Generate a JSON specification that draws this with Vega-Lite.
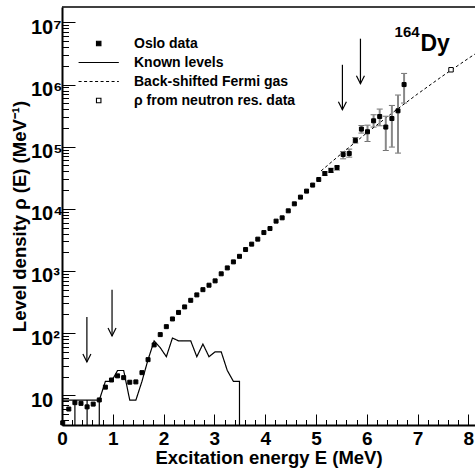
{
  "$schema": "https://vega.github.io/schema/vega-lite/v6.json",
  "width": 413,
  "height": 418,
  "autosize": {"type": "none"},
  "padding": {"left": 62, "top": 7, "right": 0, "bottom": 43},
  "background": "white",
  "config": {
    "view": {"stroke": null},
    "font": "Liberation Sans",
    "axis": {
      "grid": false,
      "domainColor": "black",
      "domainWidth": 2,
      "tickColor": "black",
      "tickWidth": 1,
      "labelColor": "black",
      "labelFont": "Liberation Sans",
      "labelFontWeight": "bold",
      "labelFontSize": 19,
      "titleFont": "Liberation Sans",
      "titleFontWeight": "bold",
      "titleFontSize": 18.5,
      "titleColor": "black",
      "labelOverlap": false,
      "labelFlush": false,
      "labelBound": false
    },
    "legend": {
      "orient": "none",
      "legendX": 29.7,
      "legendY": 29.5,
      "padding": 0,
      "labelFont": "Liberation Sans",
      "labelFontWeight": "bold",
      "labelFontSize": 14,
      "labelColor": "black",
      "labelLimit": 400,
      "labelOffset": 28.3,
      "rowPadding": 5,
      "symbolSize": 20,
      "symbolStrokeWidth": 1.1,
      "symbolOpacity": 1
    }
  },
  "resolve": {"axis": {"x": "independent", "y": "independent"}},
  "datasets": {
    "oslo": [
      {"E": 0.014, "rho": 3.6}, {"E": 0.134, "rho": 6.0}, {"E": 0.254, "rho": 7.6}, {"E": 0.374, "rho": 7.4},
      {"E": 0.494, "rho": 6.5}, {"E": 0.614, "rho": 7.2}, {"E": 0.734, "rho": 8.4}, {"E": 0.854, "rho": 13.5},
      {"E": 0.974, "rho": 17.6}, {"E": 1.094, "rho": 20.5}, {"E": 1.214, "rho": 19.2}, {"E": 1.334, "rho": 16.2},
      {"E": 1.454, "rho": 16.4}, {"E": 1.574, "rho": 23.1}, {"E": 1.694, "rho": 37.4}, {"E": 1.814, "rho": 64.6},
      {"E": 1.934, "rho": 94.6}, {"E": 2.054, "rho": 127}, {"E": 2.174, "rho": 169}, {"E": 2.294, "rho": 215},
      {"E": 2.414, "rho": 264}, {"E": 2.534, "rho": 337}, {"E": 2.654, "rho": 412}, {"E": 2.774, "rho": 500},
      {"E": 2.894, "rho": 590}, {"E": 3.014, "rho": 693}, {"E": 3.134, "rho": 900}, {"E": 3.254, "rho": 1120},
      {"E": 3.374, "rho": 1400}, {"E": 3.494, "rho": 1720}, {"E": 3.614, "rho": 2213}, {"E": 3.734, "rho": 2702},
      {"E": 3.854, "rho": 3251}, {"E": 3.974, "rho": 4151}, {"E": 4.094, "rho": 4819}, {"E": 4.214, "rho": 6339},
      {"E": 4.334, "rho": 7166}, {"E": 4.454, "rho": 9290}, {"E": 4.574, "rho": 12040}, {"E": 4.694, "rho": 15420},
      {"E": 4.814, "rho": 19270}, {"E": 4.934, "rho": 24100}, {"E": 5.054, "rho": 29650}, {"E": 5.174, "rho": 37000},
      {"E": 5.294, "rho": 41400}, {"E": 5.414, "rho": 46200}, {"E": 5.534, "rho": 74900}, {"E": 5.654, "rho": 77700},
      {"E": 5.774, "rho": 126000}, {"E": 5.894, "rho": 192000}, {"E": 6.014, "rho": 174000}, {"E": 6.134, "rho": 261000},
      {"E": 6.254, "rho": 306000}, {"E": 6.374, "rho": 207000}, {"E": 6.494, "rho": 284000}, {"E": 6.614, "rho": 378000},
      {"E": 6.734, "rho": 1000000}
    ],
    "errors": [
      {"E": 5.174, "lo": 34500, "hi": 39500}, {"E": 5.294, "lo": 38500, "hi": 45000},
      {"E": 5.414, "lo": 42000, "hi": 49000}, {"E": 5.534, "lo": 63800, "hi": 83700},
      {"E": 5.654, "lo": 67900, "hi": 91400}, {"E": 5.774, "lo": 114300, "hi": 140600},
      {"E": 5.894, "lo": 165600, "hi": 219500}, {"E": 6.014, "lo": 121300, "hi": 222000},
      {"E": 6.134, "lo": 207000, "hi": 326500}, {"E": 6.254, "lo": 217000, "hi": 403000},
      {"E": 6.374, "lo": 86900, "hi": 309000}, {"E": 6.494, "lo": 98600, "hi": 461000},
      {"E": 6.614, "lo": 78900, "hi": 678000}, {"E": 6.734, "lo": 504000, "hi": 1510000}
    ],
    "known": [
      {"seq": 1, "E": 0.014, "rho": 8.33}, {"seq": 2, "E": 0.134, "rho": 8.33}, {"seq": 3, "E": 0.254, "rho": 8.33},
      {"seq": 4, "E": 0.254, "rho": 1}, {"seq": 5, "E": 0.254, "rho": 8.33}, {"seq": 6, "E": 0.494, "rho": 8.33},
      {"seq": 7, "E": 0.494, "rho": 1}, {"seq": 8, "E": 0.494, "rho": 8.33}, {"seq": 9, "E": 0.734, "rho": 8.33},
      {"seq": 10, "E": 0.734, "rho": 1}, {"seq": 11, "E": 0.734, "rho": 8.33}, {"seq": 12, "E": 0.854, "rho": 16.7},
      {"seq": 13, "E": 0.974, "rho": 16.7}, {"seq": 14, "E": 1.094, "rho": 25}, {"seq": 15, "E": 1.214, "rho": 25},
      {"seq": 16, "E": 1.334, "rho": 8.33}, {"seq": 17, "E": 1.454, "rho": 8.33}, {"seq": 18, "E": 1.574, "rho": 16.7},
      {"seq": 19, "E": 1.694, "rho": 37.5}, {"seq": 20, "E": 1.814, "rho": 75}, {"seq": 21, "E": 1.934, "rho": 58.3},
      {"seq": 22, "E": 2.054, "rho": 41.7}, {"seq": 23, "E": 2.174, "rho": 83.3}, {"seq": 24, "E": 2.294, "rho": 75},
      {"seq": 25, "E": 2.414, "rho": 75}, {"seq": 26, "E": 2.534, "rho": 75}, {"seq": 27, "E": 2.654, "rho": 41.7},
      {"seq": 28, "E": 2.774, "rho": 66.7}, {"seq": 29, "E": 2.894, "rho": 41.7}, {"seq": 30, "E": 3.014, "rho": 50},
      {"seq": 31, "E": 3.134, "rho": 50}, {"seq": 32, "E": 3.254, "rho": 25}, {"seq": 33, "E": 3.374, "rho": 16.7},
      {"seq": 34, "E": 3.494, "rho": 16.7}, {"seq": 35, "E": 3.494, "rho": 1}
    ],
    "fermi": [
      {"E": 5.1, "rho": 40800}, {"E": 5.5, "rho": 77300}, {"E": 6.0, "rho": 166700}, {"E": 6.5, "rho": 348600},
      {"E": 7.0, "rho": 706000}, {"E": 7.5, "rho": 1386000}, {"E": 8.0, "rho": 2635000}, {"E": 8.13, "rho": 3100000}
    ],
    "neutron": [{"E": 7.658, "rho": 1730000}],
    "arrows": [
      {"E": 0.49, "top": 182, "tip": 34.4},
      {"E": 0.985, "top": 497, "tip": 90},
      {"E": 5.52, "top": 2080000, "tip": 393000},
      {"E": 5.875, "top": 5470000, "tip": 1030000}
    ],
    "nucleus": [{"mass": "164", "symbol": "Dy"}],
    "frame": [{"rho": 17700000}]
  },
  "layer": [
    {
      "data": {"name": "known"},
      "mark": {"type": "line", "strokeWidth": 1.2, "clip": true},
      "encoding": {
        "x": {"field": "E", "type": "quantitative", "scale": {"domain": [0, 8.13], "nice": false, "zero": false}, "axis": null},
        "y": {"field": "rho", "type": "quantitative", "scale": {"type": "log", "domain": [3.32, 17700000], "nice": false}, "axis": null},
        "order": {"field": "seq"},
        "stroke": {
          "datum": "Known levels",
          "scale": {
            "domain": ["Oslo data", "Known levels", "Back-shifted Fermi gas", "ρ from neutron res. data"],
            "range": ["black", "black", "black", "black"]
          },
          "legend": {"title": null}
        },
        "strokeDash": {
          "datum": "Known levels",
          "scale": {
            "domain": ["Oslo data", "Known levels", "Back-shifted Fermi gas", "ρ from neutron res. data"],
            "range": [[1, 0], [1, 0], [3, 2.5], [1, 0]]
          },
          "legend": {"title": null}
        }
      }
    },
    {
      "data": {"name": "fermi"},
      "mark": {"type": "line", "strokeWidth": 1, "clip": true},
      "encoding": {
        "x": {
          "field": "E", "type": "quantitative",
          "axis": {
            "orient": "bottom", "title": null, "labels": false, "domain": false, "tickSize": -5.5,
            "values": [0.2, 0.4, 0.6, 0.8, 1.2, 1.4, 1.6, 1.8, 2.2, 2.4, 2.6, 2.8, 3.2, 3.4, 3.6, 3.8, 4.2, 4.4, 4.6, 4.8, 5.2, 5.4, 5.6, 5.8, 6.2, 6.4, 6.6, 6.8, 7.2, 7.4, 7.6, 7.8]
          }
        },
        "y": {
          "field": "rho", "type": "quantitative",
          "axis": {
            "orient": "left", "title": null, "labels": false, "domain": false, "tickSize": -6.5,
            "values": [4, 5, 6, 7, 8, 9, 20, 30, 40, 50, 60, 70, 80, 90, 200, 300, 400, 500, 600, 700, 800, 900, 2000, 3000, 4000, 5000, 6000, 7000, 8000, 9000, 20000, 30000, 40000, 50000, 60000, 70000, 80000, 90000, 200000, 300000, 400000, 500000, 600000, 700000, 800000, 900000, 2000000, 3000000, 4000000, 5000000, 6000000, 7000000, 8000000, 9000000]
          }
        },
        "stroke": {"datum": "Back-shifted Fermi gas", "legend": {"title": null}},
        "strokeDash": {"datum": "Back-shifted Fermi gas", "legend": {"title": null}}
      }
    },
    {
      "data": {"name": "arrows"},
      "mark": {"type": "rule", "color": "black", "strokeWidth": 1.2},
      "encoding": {
        "x": {"field": "E", "type": "quantitative", "axis": null},
        "y": {"field": "top", "type": "quantitative", "axis": null},
        "y2": {"field": "tip"}
      }
    },
    {
      "data": {"name": "arrows"},
      "mark": {"type": "point", "shape": "M-1,-2L0,0L1,-2", "size": 64, "filled": false, "color": "black", "strokeWidth": 1.2, "opacity": 1},
      "encoding": {
        "x": {"field": "E", "type": "quantitative", "axis": null},
        "y": {"field": "tip", "type": "quantitative", "axis": null}
      }
    },
    {
      "data": {"name": "errors"},
      "mark": {"type": "errorbar", "ticks": {"color": "#333333", "size": 6, "strokeWidth": 1.2}, "rule": {"color": "#888888", "strokeWidth": 2}},
      "encoding": {
        "x": {"field": "E", "type": "quantitative", "axis": null},
        "y": {"field": "lo", "type": "quantitative", "axis": null},
        "y2": {"field": "hi"}
      }
    },
    {
      "data": {"name": "oslo"},
      "mark": {"type": "point", "filled": true, "strokeWidth": 1, "size": 16, "opacity": 1},
      "encoding": {
        "x": {
          "field": "E", "type": "quantitative",
          "axis": {
            "orient": "bottom",
            "title": "Excitation energy E (MeV)",
            "values": [0, 1, 2, 3, 4, 5, 6, 7, 8],
            "format": "d",
            "tickSize": -11,
            "labelPadding": 15,
            "titleBaseline": "alphabetic",
            "titleY": 38.3
          }
        },
        "y": {
          "field": "rho", "type": "quantitative",
          "axis": {
            "orient": "left",
            "title": "Level density ρ (E) (MeV⁻¹)",
            "values": [10, 100, 1000, 10000, 100000, 1000000, 10000000],
            "labelExpr": "datum.value < 15 ? '10' : '10' + ['', '', '²', '³', '⁴', '⁵', '⁶', '⁷'][round(log(datum.value)/LN10)]",
            "tickSize": -13,
            "labelFontSize": 20,
            "labelAlign": "left",
            "labelPadding": 44.5,
            "labelBaseline": "middle",
            "labelOffset": 5,
            "titleAngle": -90,
            "titleBaseline": "alphabetic",
            "titleAlign": "center",
            "titleX": -37,
            "titleY": 209
          }
        },
        "shape": {
          "datum": "Oslo data",
          "scale": {
            "domain": ["Oslo data", "Known levels", "Back-shifted Fermi gas", "ρ from neutron res. data"],
            "range": ["square", "M-9,0L9,0", "M-9,0L9,0", "square"]
          },
          "legend": {"title": null}
        },
        "fill": {
          "datum": "Oslo data",
          "scale": {
            "domain": ["Oslo data", "Known levels", "Back-shifted Fermi gas", "ρ from neutron res. data"],
            "range": ["black", "transparent", "transparent", "white"]
          },
          "legend": {"title": null}
        },
        "stroke": {"datum": "Oslo data", "legend": {"title": null}}
      }
    },
    {
      "data": {"name": "neutron"},
      "mark": {"type": "point", "filled": true, "strokeWidth": 1, "size": 20, "opacity": 1},
      "encoding": {
        "x": {"field": "E", "type": "quantitative", "axis": null},
        "y": {"field": "rho", "type": "quantitative", "axis": null},
        "shape": {"datum": "ρ from neutron res. data", "legend": {"title": null}},
        "fill": {"datum": "ρ from neutron res. data", "legend": {"title": null}},
        "stroke": {"datum": "ρ from neutron res. data", "legend": {"title": null}}
      }
    },
    {
      "data": {"name": "nucleus"},
      "mark": {"type": "text", "align": "right", "baseline": "alphabetic", "font": "Liberation Sans", "fontWeight": "bold", "fontSize": 15, "color": "black"},
      "encoding": {
        "x": {"datum": 7.04, "type": "quantitative", "axis": null},
        "y": {"datum": 5820000, "type": "quantitative", "axis": null},
        "text": {"field": "mass"}
      }
    },
    {
      "data": {"name": "nucleus"},
      "mark": {"type": "text", "align": "left", "baseline": "alphabetic", "font": "Liberation Sans", "fontWeight": "bold", "fontSize": 23, "color": "black"},
      "encoding": {
        "x": {"datum": 7.055, "type": "quantitative", "axis": null},
        "y": {"datum": 3410000, "type": "quantitative", "axis": null},
        "text": {"field": "symbol"}
      }
    },
    {
      "data": {"name": "frame"},
      "mark": {"type": "rule", "color": "black", "strokeWidth": 1.5},
      "encoding": {
        "y": {"field": "rho", "type": "quantitative", "axis": null}
      }
    }
  ]
}
